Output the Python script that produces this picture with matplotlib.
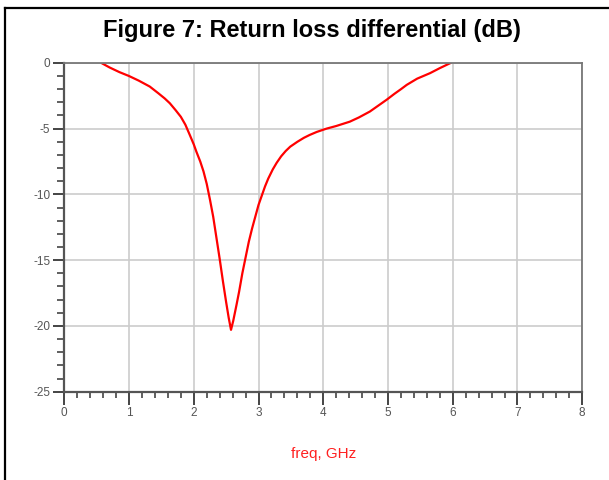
import matplotlib.pyplot as plt
from matplotlib.lines import Line2D
from matplotlib.ticker import MultipleLocator

# return loss curve
freq = [0.57, 0.7, 0.85, 1.0, 1.15, 1.32, 1.45, 1.55, 1.63, 1.72, 1.8, 1.87, 1.94, 2.0,
        2.04, 2.1, 2.15, 2.2, 2.25, 2.3, 2.35, 2.4, 2.45, 2.5, 2.54, 2.575, 2.61, 2.66,
        2.7, 2.75, 2.8, 2.85, 2.9, 2.95, 3.0, 3.05, 3.1, 3.15, 3.22, 3.28, 3.35, 3.42,
        3.49, 3.6, 3.7, 3.79, 3.9, 4.05, 4.2, 4.41, 4.55, 4.72, 4.85, 4.98, 5.1, 5.2,
        5.29, 5.45, 5.65, 5.8, 5.97]
rl_db = [0.0, -0.35, -0.7, -1.0, -1.35, -1.8, -2.3, -2.7, -3.07, -3.6, -4.1, -4.7, -5.5, -6.2,
         -6.75, -7.5, -8.25, -9.2, -10.4, -11.7, -13.3, -14.9, -16.6, -18.2, -19.4, -20.3, -19.6, -18.4,
         -17.4, -16.0, -14.8, -13.6, -12.6, -11.7, -10.8, -10.1, -9.4, -8.8, -8.1, -7.6, -7.1, -6.7,
         -6.37, -6.0, -5.7, -5.48, -5.25, -5.0, -4.8, -4.47, -4.15, -3.7, -3.25, -2.8, -2.35, -2.0,
         -1.67, -1.2, -0.78, -0.4, 0.0]

xticks = [0, 1, 2, 3, 4, 5, 6, 7, 8]
yticks = [0, -5, -10, -15, -20, -25]

plt.rcParams['font.family'] = ['Liberation Sans', 'DejaVu Sans']

fig = plt.figure(figsize=(6.09, 4.8), dpi=100)
ax = fig.add_axes([0.1056, 0.184, 0.956 - 0.1056, 0.869 - 0.184])

ax.plot(freq, rl_db, color='#ff0000', lw=1.6, solid_capstyle='round', solid_joinstyle='round')

ax.set_xlim(0, 8)
ax.set_ylim(-25, 0)
ax.set_xticks(xticks)
ax.set_yticks(yticks)
ax.set_xticklabels([str(t) for t in xticks])
ax.set_yticklabels([str(t) for t in yticks])
ax.xaxis.set_minor_locator(MultipleLocator(0.2))
ax.yaxis.set_minor_locator(MultipleLocator(1))

ax.grid(True, which='major', color='#cccccc', lw=1.2)
ax.set_axisbelow(True)

ax.tick_params(axis='both', which='major', direction='out', color='#444444',
               width=1.4, labelsize=8.5, labelcolor='#555555', pad=2)
ax.tick_params(axis='x', which='major', length=9)
ax.tick_params(axis='y', which='major', length=8)
ax.tick_params(axis='x', which='minor', direction='out', length=4, width=1.2, color='#444444')
ax.tick_params(axis='y', which='minor', direction='out', length=5, width=1.2, color='#444444')

for s in ['left', 'bottom']:
    ax.spines[s].set_color('#555555')
    ax.spines[s].set_linewidth(1.6)
for s in ['top', 'right']:
    ax.spines[s].set_color('#777777')
    ax.spines[s].set_linewidth(1.3)

ax.set_xlabel('freq, GHz', color='#ff2020', fontsize=11, labelpad=20)

fig.text(0.512, 0.937, 'Figure 7: Return loss differential (dB)', ha='center', va='center',
         fontsize=17, fontweight='bold')

# outer frame (only left and top edges are visible)
fig.add_artist(Line2D([4.5 / 609, 4.5 / 609], [0, 1 - 7.5 / 480], color='black', lw=1.6,
                      transform=fig.transFigure, solid_capstyle='projecting'))
fig.add_artist(Line2D([4.5 / 609, 1], [1 - 7.5 / 480, 1 - 7.5 / 480], color='black', lw=1.6,
                      transform=fig.transFigure, solid_capstyle='projecting'))

fig.savefig('out.png', dpi=100)
